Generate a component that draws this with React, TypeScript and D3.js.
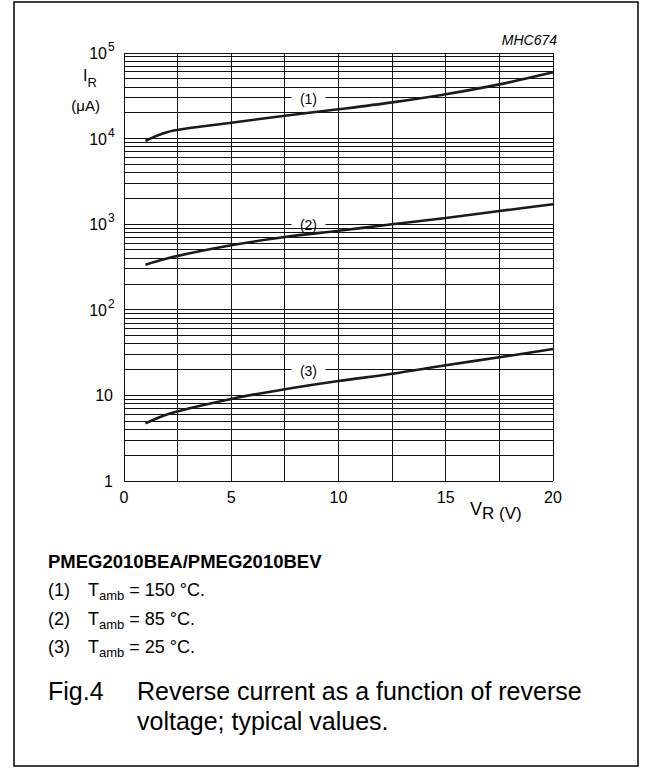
import React from "react";
import * as d3 from "d3";

const voltage = [1, 2, 5, 7.5, 10, 12.5, 15, 17.5, 20];
const irT150 = [9400, 11900, 15300, 18500, 22000, 26500, 33000, 43000, 59500];
const irT85 = [336, 398, 567, 708, 839, 997, 1180, 1425, 1710];
const irT25 = [4.72, 6.0, 9.1, 11.8, 14.7, 17.9, 22.5, 27.9, 34.8];
const seriesLabels = ["(1)", "(2)", "(3)"];
const labelV = [8.6, 8.6, 8.6];
const labelI = [30000, 1000, 20];
const xTicks = [0, 5, 10, 15, 20];
const xGrid = [0, 2.5, 5, 7.5, 10, 12.5, 15, 17.5, 20];
const yDecades = [1, 10, 100, 1000, 10000, 100000];
const yTickExp = ["", "", "2", "3", "4", "5"];
const yTickBase = ["1", "10", "10", "10", "10", "10"];
const legendTemps = ["150", "85", "25"];

const FONT = "'Liberation Sans', Arial, Helvetica, sans-serif";

export default function App() {
  const x = d3.scaleLinear().domain([0, 20]).range([124, 553]);
  const y = d3.scaleLog().domain([1, 1e5]).range([481, 53]);

  const yGrid: number[] = [];
  for (let e = 0; e < 5; e++) {
    for (let m = 1; m <= 9; m++) yGrid.push(m * Math.pow(10, e));
  }
  yGrid.push(1e5);

  const line = d3
    .line<[number, number]>()
    .x((d) => x(d[0]))
    .y((d) => y(d[1]))
    .curve(d3.curveCatmullRom.alpha(0.5));

  const series = [irT150, irT85, irT25];
  const L = 48;

  return (
    <svg
      width={652}
      height={776}
      style={{ position: "absolute", left: 0, top: 0, background: "#fff" }}
      fontFamily={FONT}
    >
      <rect x={14} y={2} width={624} height={764} fill="none" stroke="#000" strokeWidth={1.5} />
      {/* grid */}
      <g stroke="#111" strokeWidth={1} shapeRendering="crispEdges">
        {yGrid.map((v, i) => (
          <line key={"h" + i} x1={x(0)} x2={x(20)} y1={y(v)} y2={y(v)} />
        ))}
        {xGrid.map((v, i) => (
          <line key={"v" + i} x1={x(v)} x2={x(v)} y1={y(1)} y2={y(1e5)} />
        ))}
      </g>
      {/* curves */}
      {series.map((s, i) => (
        <path
          key={"c" + i}
          d={line(voltage.map((v, j) => [v, s[j]] as [number, number])) || ""}
          fill="none"
          stroke="#1a1a1a"
          strokeWidth={2.6}
        />
      ))}
      {/* curve labels */}
      {seriesLabels.map((l, i) => (
        <g key={"l" + i}>
          <rect x={x(labelV[i]) - 17} y={y(labelI[i]) - 3} width={34} height={6} fill="#fff" />
          <text
            x={x(labelV[i])}
            y={y(labelI[i]) + 6}
            textAnchor="middle"
            fontSize={14}
            fill="#000"
          >
            {l}
          </text>
        </g>
      ))}
      {/* y tick labels */}
      {yDecades.map((v, i) => (
        <text key={"yt" + i} x={yTickExp[i] ? 107 : 113} y={y(v) + 6} textAnchor="end" fontSize={16} fill="#000">
          {yTickBase[i]}
          {yTickExp[i] ? (
            <tspan x={108} dy={-8} fontSize={12} textAnchor="start">
              {yTickExp[i]}
            </tspan>
          ) : null}
        </text>
      ))}
      {/* y axis title */}
      <text x={83} y={81} fontSize={16} fill="#000">
        I
        <tspan fontSize={13} dy={6}>R</tspan>
      </text>
      <text x={100} y={111} fontSize={15} textAnchor="end" fill="#000">(μA)</text>
      {/* x tick labels */}
      {xTicks.map((v, i) => (
        <text key={"xt" + i} x={x(v)} y={503} textAnchor="middle" fontSize={16} fill="#000">
          {v}
        </text>
      ))}
      <text x={470} y={515} fontSize={18} fill="#000">
        V
        <tspan fontSize={17} dy={4}>R (V)</tspan>
      </text>
      <text x={557} y={45} textAnchor="end" fontSize={14} fontStyle="italic" fill="#000">
        MHC674
      </text>
      {/* legend */}
      <text x={L} y={568} fontSize={18.5} fontWeight="bold" fill="#000">
        PMEG2010BEA/PMEG2010BEV
      </text>
      {legendTemps.map((t, i) => (
        <g key={"lg" + i}>
          <text x={L} y={596 + i * 28.5} fontSize={18} fill="#000">
            {seriesLabels[i]}
          </text>
          <text x={88} y={596 + i * 28.5} fontSize={18} fill="#000">
            T
            <tspan fontSize={13} dy={4}>amb</tspan>
            <tspan dy={-4}>{` = ${t} °C.`}</tspan>
          </text>
        </g>
      ))}
      {/* caption */}
      <text x={L} y={700} fontSize={25} fill="#000">Fig.4</text>
      <text x={137} y={700} fontSize={25} fill="#000">Reverse current as a function of reverse</text>
      <text x={137} y={730} fontSize={25} fill="#000">voltage; typical values.</text>
    </svg>
  );
}
